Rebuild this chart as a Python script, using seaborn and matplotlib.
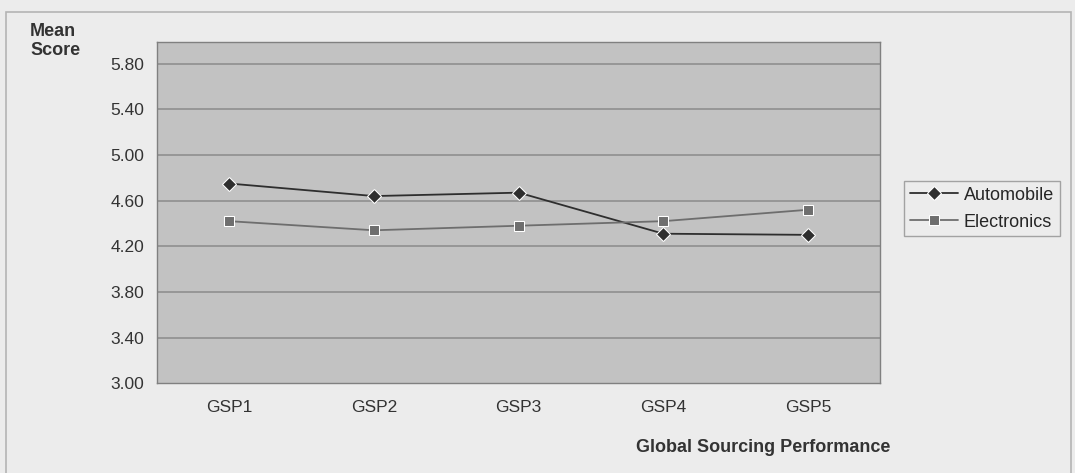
import numpy as np
import pandas as pd
import matplotlib.pyplot as plt
import matplotlib.patches as patches
import seaborn as sns

# values
items = ["GSP1", "GSP2", "GSP3", "GSP4", "GSP5"]
automobile = [4.75, 4.64, 4.67, 4.31, 4.30]
electronics = [4.42, 4.34, 4.38, 4.42, 4.52]
y_ticks = [3.00, 3.40, 3.80, 4.20, 4.60, 5.00, 5.40, 5.80]

df = pd.DataFrame(
    {
        "item": items * 2,
        "score": automobile + electronics,
        "sector": ["Automobile"] * len(items) + ["Electronics"] * len(items),
    }
)

sns.set_style("white")
plt.rcParams["font.family"] = ["Liberation Sans", "DejaVu Sans"]

fig = plt.figure(figsize=(10.75, 4.73), dpi=100)
fig.patch.set_facecolor("#ececec")
ax = fig.add_axes([0.146, 0.19, 0.673, 0.721])

# outer chart border
fig.add_artist(
    patches.Rectangle(
        (0.006, -0.01), 0.99, 0.985, transform=fig.transFigure,
        fill=False, edgecolor="#b4b4b4", linewidth=1.2,
    )
)

ax.set_facecolor("#c2c2c2")
for y in y_ticks[1:]:
    ax.axhline(y, color="#8f8f8f", linewidth=1.2, zorder=1)

sns.lineplot(
    data=df, x="item", y="score", hue="sector", style="sector",
    markers={"Automobile": "D", "Electronics": "s"}, dashes=False,
    palette={"Automobile": "#2e2e2e", "Electronics": "#6e6e6e"},
    markersize=7, linewidth=1.3, ax=ax, zorder=3,
)

ax.set_xlim(-0.5, 4.5)
ax.set_ylim(3.0, 5.99)
ax.set_yticks(y_ticks)
ax.set_yticklabels([f"{v:.2f}" for v in y_ticks])
ax.tick_params(axis="y", length=4, width=0.8, color="#777777", labelsize=12.5,
               labelcolor="#333333", pad=5)
ax.tick_params(axis="x", length=0, labelsize=12.5, labelcolor="#333333", pad=12)
ax.set_xlabel("")
ax.set_ylabel("")
for side in ["top", "right", "bottom", "left"]:
    ax.spines[side].set_color("#808080")
    ax.spines[side].set_linewidth(1.0)

fig.text(0.028, 0.875, "Mean\nScore", fontsize=13, fontweight="bold",
         color="#333333", va="bottom", linespacing=1.15)
fig.text(0.828, 0.053, "Global Sourcing Performance", fontsize=13,
         fontweight="bold", color="#333333", ha="right", va="center")

ax.legend(
    loc="upper left", bbox_to_anchor=(1.033, 0.592), frameon=True,
    fancybox=False, edgecolor="#909090", facecolor="#ececec",
    fontsize=13, handlelength=2.7, borderpad=0.3, labelspacing=0.55,
    handletextpad=0.3, borderaxespad=0,
)

plt.savefig("out.png", dpi=100, facecolor=fig.get_facecolor())
